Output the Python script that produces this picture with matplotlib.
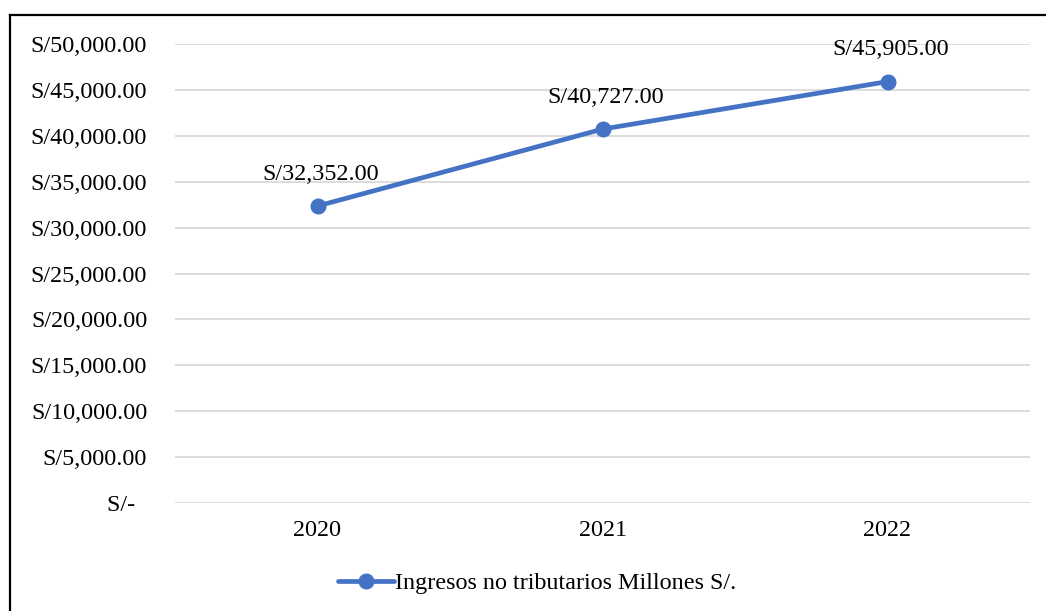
import matplotlib
matplotlib.use("Agg")
import matplotlib.pyplot as plt
from matplotlib.lines import Line2D
from matplotlib.ticker import FuncFormatter, MultipleLocator

years = ["2020", "2021", "2022"]
values = [32352.00, 40727.00, 45905.00]
series_name = "Ingresos no tributarios Millones S/."

plt.rcParams['font.family'] = ['Liberation Serif', 'DejaVu Serif']

W, H = 1046, 611
FS = 17.4
fig = plt.figure(figsize=(W / 100, H / 100), dpi=100)
ax = fig.add_axes([175 / W, 1 - 503 / H, (1030 - 175) / W, (503 - 44) / H])

color = "#4472C4"
x = list(range(len(years)))
ax.plot(x, values, color=color, lw=3.4, marker="o", markersize=10.5,
        solid_capstyle="round", label=series_name, zorder=3)

for xi, v in zip(x, values):
    ax.annotate(f"S/{v:,.2f}", (xi, v), xytext=(2, 23), textcoords="offset points",
                ha="center", va="center", fontsize=FS, color="black")

ax.set_xlim(-0.5, len(years) - 0.5)
ax.set_ylim(0, 50000)
ax.yaxis.set_major_locator(MultipleLocator(5000))


def fmt(v, pos):
    if abs(v) < 1e-9:
        return "S/-  "
    return f"S/{v:,.2f}"


ax.yaxis.set_major_formatter(FuncFormatter(fmt))
ax.set_xticks(x)
ax.set_xticklabels(years)
ax.tick_params(axis="y", length=0, pad=20, labelsize=FS)
ax.tick_params(axis="x", length=0, pad=12, labelsize=FS)
ax.grid(axis="y", color="#d9d9d9", lw=1.3)
ax.set_axisbelow(True)
for s in ax.spines.values():
    s.set_visible(False)

handle = Line2D([], [], color=color, lw=3.4, marker="o", markersize=10.5,
                solid_capstyle="round")
fig.legend([handle], [series_name], loc="center", bbox_to_anchor=(537 / W, 1 - 583 / H),
           frameon=False, fontsize=FS, handlelength=2.3, handletextpad=0.05,
           borderpad=0, borderaxespad=0)

# outer border (chart area frame, partially cropped)
fig.add_artist(Line2D([9.5 / W, 9.5 / W], [0, 1 - 14.5 / H], color="black", lw=1.6,
                      transform=fig.transFigure))
fig.add_artist(Line2D([9.5 / W, 1], [1 - 14.5 / H, 1 - 14.5 / H], color="black", lw=1.6,
                      transform=fig.transFigure))

fig.savefig("out.png", dpi=100)
